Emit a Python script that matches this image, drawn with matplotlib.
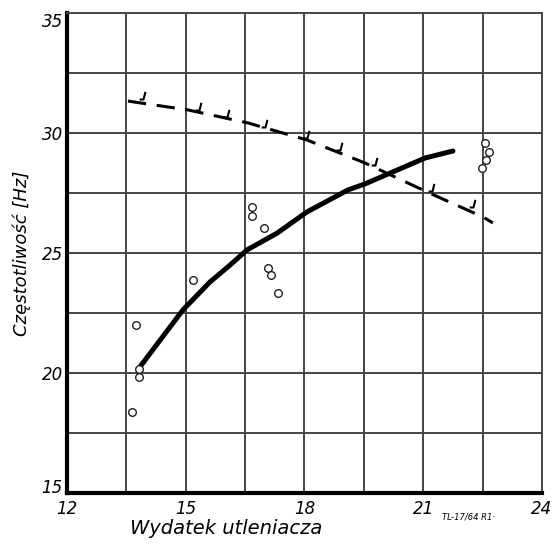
import numpy as np
import matplotlib
matplotlib.use("Agg")
import matplotlib.pyplot as plt
from matplotlib.path import Path

# solid curve (frequency vs oxidizer flow)
solid_x = [13.84, 14.93, 15.61, 16.12, 16.55, 17.31, 18.06, 19.10, 19.53, 21.05, 21.75]
solid_y = [20.25, 22.63, 23.79, 24.50, 25.13, 25.83, 26.71, 27.63, 27.88, 28.96, 29.25]

# dashed curve
dash_x = [13.54, 15.06, 16.57, 18.06, 19.53, 21.10, 22.51, 22.76]
dash_y = [31.33, 30.96, 30.42, 29.71, 28.75, 27.54, 26.50, 26.25]

# tick-shaped points along the dashed curve
tick_x = [13.92, 15.34, 16.04, 17.00, 18.06, 18.90, 19.78, 21.22, 22.26]
tick_y = [31.40, 30.96, 30.67, 30.25, 29.80, 29.30, 28.67, 27.60, 26.90]

# open circles
circ_x = [13.74, 13.82, 13.82, 13.64, 15.18, 16.67, 16.67, 16.98, 17.08, 17.15,
          17.33, 22.56, 22.66, 22.59, 22.49]
circ_y = [22.00, 20.17, 19.83, 18.38, 23.88, 26.90, 26.54, 26.04, 24.38, 24.08,
          23.33, 29.58, 29.20, 28.88, 28.54]

xticks = [12, 15, 18, 21, 24]
yticks = [15, 20, 25, 30, 35]

fig = plt.figure(figsize=(5.52, 5.44), dpi=100)
ax = fig.add_axes([67 / 552, 1 - 493 / 544, 475 / 552, 480 / 544])

ax.set_xlim(12, 24)
ax.set_ylim(15, 35)

# grid
for gx in np.arange(13.5, 24, 1.5):
    ax.axvline(gx, color="#444444", lw=1.4, zorder=1)
for gy in np.arange(17.5, 35, 2.5):
    ax.axhline(gy, color="#444444", lw=1.4, zorder=1)

ax.plot(solid_x, solid_y, color="black", lw=3.6, solid_capstyle="round",
        solid_joinstyle="round", zorder=3)
ax.plot(dash_x, dash_y, color="black", lw=2.2, dashes=(6, 3.5), zorder=3)

tick_marker = Path([(-0.5, 0.0), (0.0, 0.0), (0.25, 1.0)], [Path.MOVETO, Path.LINETO, Path.LINETO])
ax.plot(tick_x, tick_y, linestyle="none", marker=tick_marker, markersize=11,
        markerfacecolor="none", markeredgecolor="black", markeredgewidth=1.5, zorder=4)

ax.plot(circ_x, circ_y, linestyle="none", marker="o", markersize=5.5,
        markerfacecolor="white", markeredgecolor="#222222", markeredgewidth=1.0, zorder=4)

for s in ["left", "bottom"]:
    ax.spines[s].set_linewidth(3.0)
    ax.spines[s].set_color("black")
for s in ["top", "right"]:
    ax.spines[s].set_linewidth(1.4)
    ax.spines[s].set_color("#444444")

ax.set_xticks(xticks)
ax.set_yticks(yticks)
ax.set_xticklabels([str(v) for v in xticks], fontsize=12, style="italic")
ax.set_yticklabels([str(v) for v in yticks], fontsize=12, style="italic")
ax.tick_params(length=0, pad=3)
ax.tick_params(axis="x", pad=5)
# lowest y label sits just above the corner, as in the original
ax.get_yticklabels()[0].set_va("baseline")
ax.get_yticklabels()[-1].set_va("top")

ax.text(-0.095, 0.5, "Częstotliwość [Hz]", transform=ax.transAxes, rotation=90,
        ha="center", va="center", fontsize=13, style="italic")
ax.text(0.335, -0.074, "Wydatek utleniacza", transform=ax.transAxes,
        ha="center", va="center", fontsize=14, style="italic")
ax.text(0.845, -0.05, "TL-17/64 R1·", transform=ax.transAxes,
        ha="center", va="center", fontsize=6, style="italic")

fig.savefig("out.png", dpi=100)
